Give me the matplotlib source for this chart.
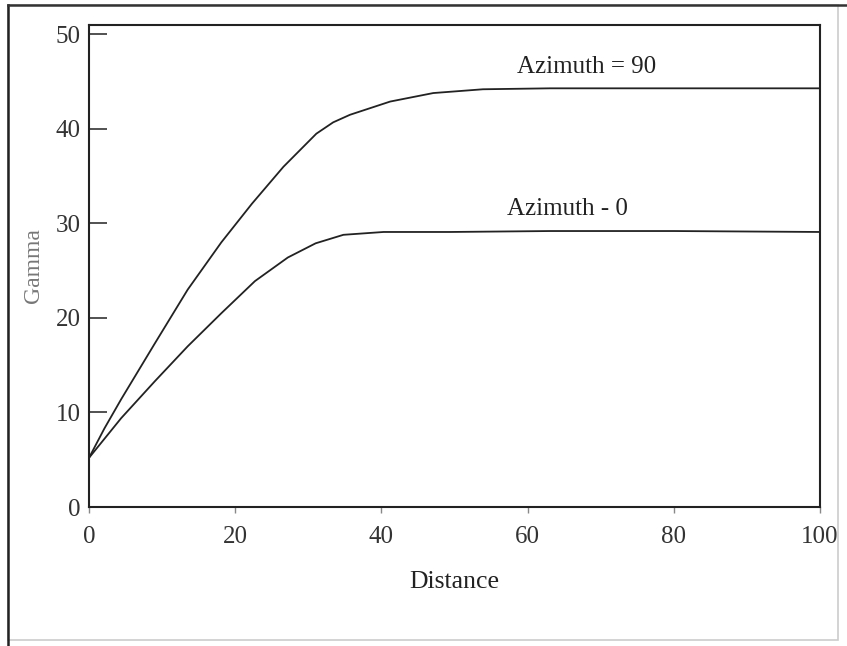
import matplotlib
matplotlib.use("Agg")
import matplotlib.pyplot as plt
from matplotlib.patches import Rectangle

# Data
dist_az90 = [0, 2.1, 4.4, 9.0, 13.5, 18.1, 22.3, 26.6, 31.1, 33.4, 35.7, 41.2, 47.1, 53.9, 63.1, 80, 100]
gamma_az90 = [5.2, 8.3, 11.4, 17.3, 23.0, 28.0, 32.1, 36.0, 39.5, 40.7, 41.5, 42.9, 43.8, 44.2, 44.3, 44.3, 44.3]
dist_az0 = [0, 4.4, 9.0, 13.5, 18.1, 22.7, 27.2, 31.0, 34.8, 40.3, 49.4, 63.1, 80, 100]
gamma_az0 = [5.2, 9.4, 13.3, 17.0, 20.5, 23.9, 26.4, 27.9, 28.8, 29.1, 29.1, 29.2, 29.2, 29.1]
x_ticks = [0, 20, 40, 60, 80, 100]
y_ticks = [0, 10, 20, 30, 40, 50]
label_az90 = "Azimuth = 90"
label_az0 = "Azimuth - 0"

plt.rcParams['font.family'] = ['Liberation Serif', 'DejaVu Serif']

fig = plt.figure(figsize=(8.47, 6.46), dpi=100)
ax = fig.add_axes([89/847, 1-507/646, (820-89)/847, (507-25)/646])

ax.plot(dist_az90, gamma_az90, color='#222222', lw=1.3, solid_joinstyle='round')
ax.plot(dist_az0, gamma_az0, color='#222222', lw=1.3, solid_joinstyle='round')

ax.set_xlim(0, 100)
ax.set_ylim(0, 51)
ax.set_xticks(x_ticks)
ax.set_yticks(y_ticks)
ax.tick_params(axis='y', direction='in', length=13, width=1.2, color='#333333',
               labelsize=18, labelcolor='#333333', pad=6)
ax.tick_params(axis='x', direction='out', length=4, width=1.0, color='#888888',
               labelsize=18, labelcolor='#333333', pad=10)
for s in ax.spines.values():
    s.set_linewidth(1.5)
    s.set_color('#222222')

ax.set_xlabel('Distance', fontsize=18.5, color='#222222', labelpad=16)
fig.text(33/847, 1-266/646, 'Gamma', rotation=90, fontsize=17, color='#777777',
         ha='center', va='center')

ax.text(68.1, 46.6, label_az90, fontsize=18, ha='center', va='center', color='#222222')
ax.text(65.4, 31.5, label_az0, fontsize=18, ha='center', va='center', color='#222222')

# outer frame
fig.patches.append(Rectangle((8/847, 1-640/646), (838-8)/847, (640-5)/646,
                             transform=fig.transFigure, fill=False,
                             edgecolor='#cccccc', lw=1.2))
fig.add_artist(plt.Line2D([8/847, 8/847], [1-645/646, 1-5/646], transform=fig.transFigure,
                          color='#222222', lw=1.8))
fig.add_artist(plt.Line2D([8/847, 1.0], [1-5/646, 1-5/646], transform=fig.transFigure,
                          color='#333333', lw=1.8))

fig.savefig('out.png', dpi=100)
